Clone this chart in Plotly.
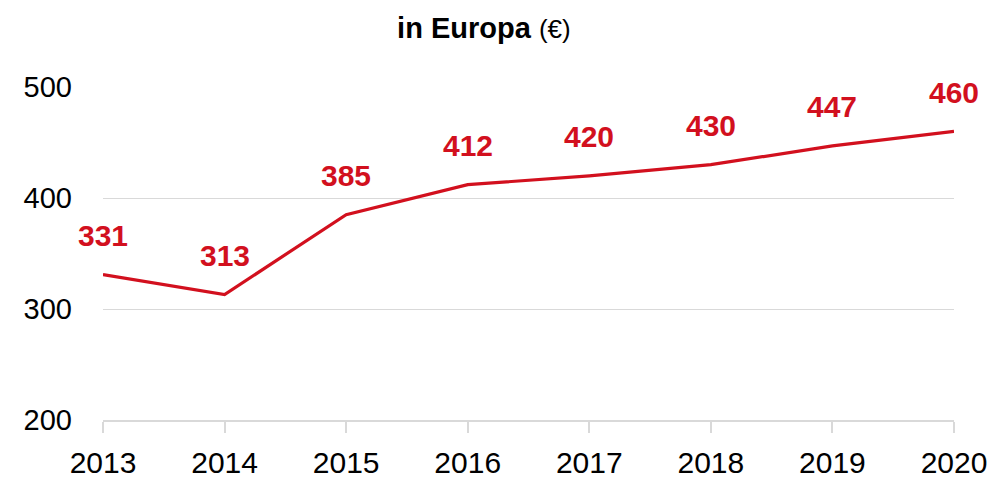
import plotly.graph_objects as go

years = [2013, 2014, 2015, 2016, 2017, 2018, 2019, 2020]
values = [331, 313, 385, 412, 420, 430, 447, 460]
y_ticks = [200, 300, 400, 500]

RED = "#d2101e"
FONT = "Liberation Sans Narrow, Arial Narrow, Liberation Sans, Arial, sans-serif"

fig = go.Figure()
fig.add_trace(go.Scatter(x=years, y=values, mode="lines",
                         line=dict(color=RED, width=3.2), hoverinfo="skip"))

for x, v in zip(years, values):
    fig.add_annotation(x=x, y=v, text=f"<b>{v}</b>", showarrow=False,
                       yshift=39, font=dict(family=FONT, size=30, color=RED))

fig.update_layout(
    width=1004, height=483,
    margin=dict(l=95, r=58, t=79, b=69),
    paper_bgcolor="white", plot_bgcolor="white",
    showlegend=False,
    font=dict(family=FONT, color="black"),
    title=dict(text="<b>in Europa</b> <span style='font-size:26px'>(€)</span>",
               x=0.474, xanchor="center", y=0.959, yanchor="middle",
               font=dict(family=FONT, size=29, color="black")),
)
fig.update_xaxes(range=[2013, 2020], tickvals=years, ticktext=[str(y) for y in years],
                 showgrid=False, showline=True, linecolor="#d9d9d9", linewidth=1.5,
                 ticks="outside", ticklen=11, tickcolor="#d9d9d9", tickwidth=1.5,
                 ticklabelstandoff=4,
                 tickfont=dict(family=FONT, size=30, color="black"), zeroline=False)
fig.update_yaxes(range=[200, 500], tickvals=y_ticks, showgrid=True, gridcolor="#d9d9d9",
                 gridwidth=1, zeroline=False, showline=False, ticks="",
                 ticklabelstandoff=30,
                 tickfont=dict(family=FONT, size=29, color="black"))

fig.write_html("out.html")
